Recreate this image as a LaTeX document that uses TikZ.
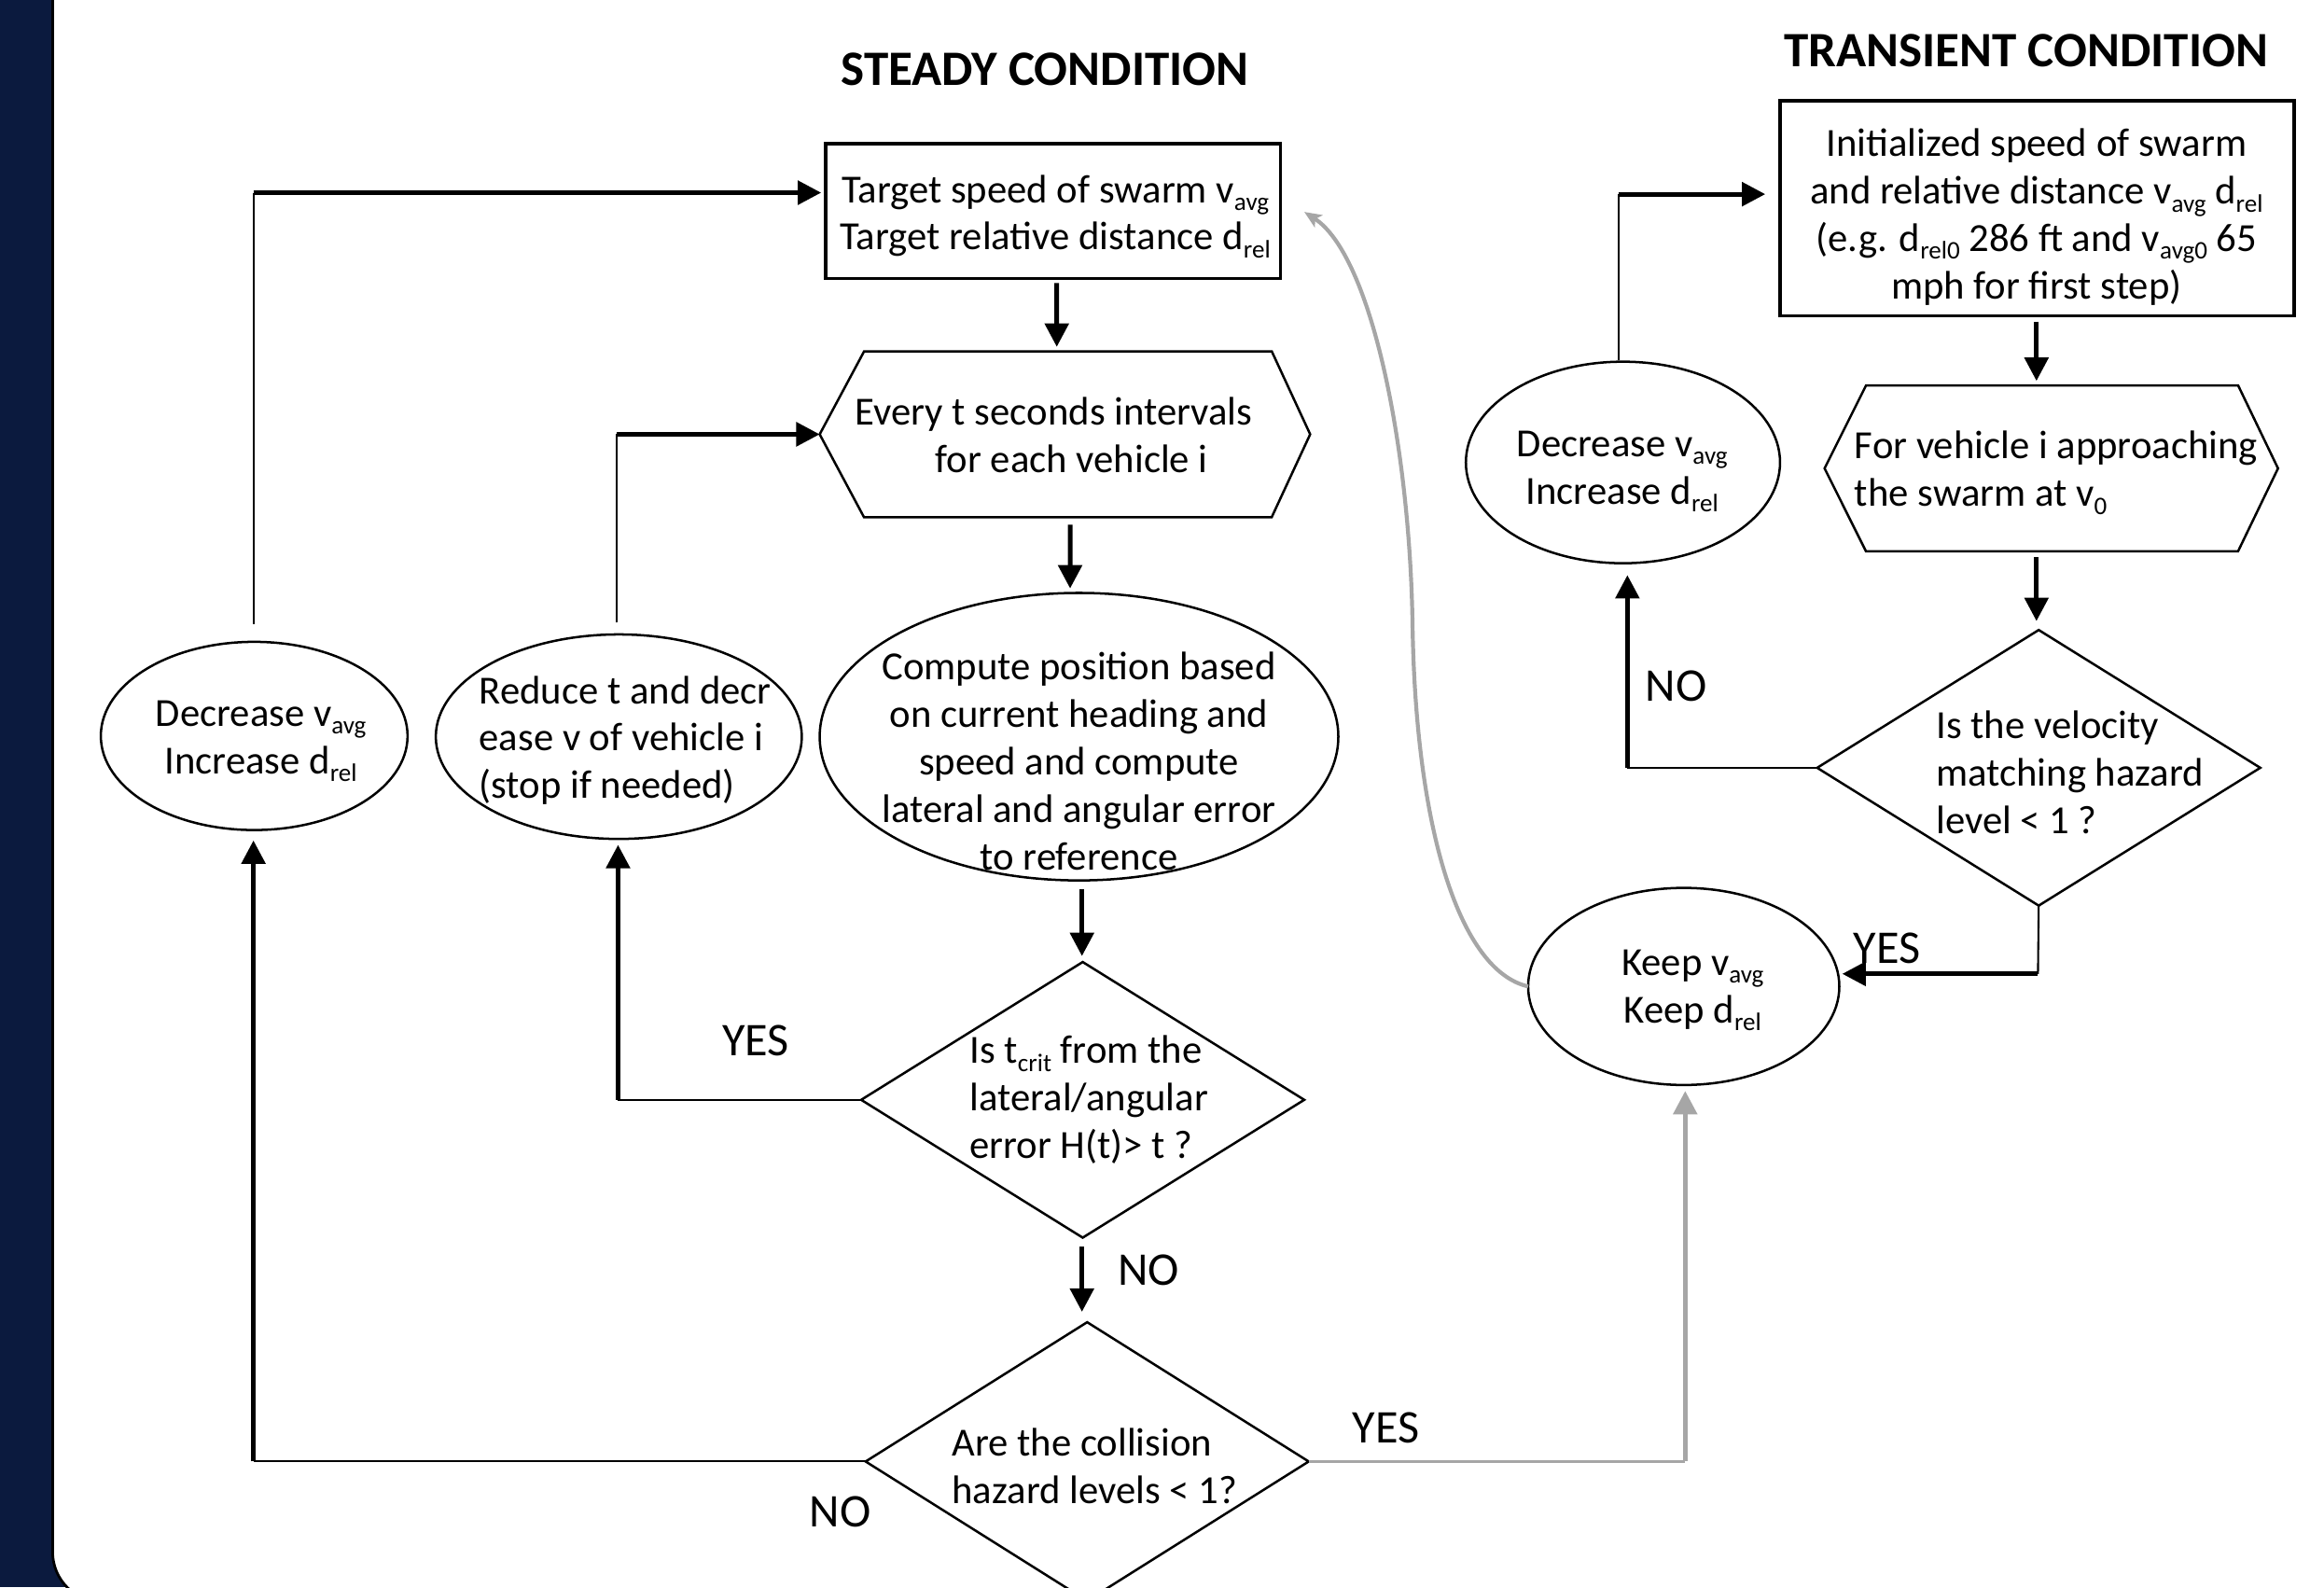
\documentclass[tikz,border=0pt]{standalone}
\usepackage{fontspec}
\setmainfont{Carlito}
\usetikzlibrary{shapes.geometric,arrows.meta,calc}
\definecolor{navyband}{HTML}{0B1A3E}
\definecolor{lgray}{HTML}{A6A6A6}
\newcommand{\sbx}[1]{\raisebox{-3pt}{\fontsize{9.7}{10}\selectfont #1}}
\tikzset{
  body/.style={font=\fontsize{15.3}{18.2}\selectfont, inner sep=0pt, align=center},
  bodyl/.style={font=\fontsize{15.3}{18.2}\selectfont, inner sep=0pt, align=left, anchor=west},
  ttl/.style={font=\fontsize{19}{22}\selectfont\bfseries, inner sep=0pt},
  lbl/.style={font=\fontsize{18}{21}\selectfont, inner sep=0pt},
  boxnode/.style={draw, line width=1.3pt, rectangle, inner sep=0pt, outer sep=0pt},
  ellnode/.style={draw, line width=0.9pt, ellipse, inner sep=0pt, outer sep=0pt},
  dianode/.style={draw, line width=0.9pt, diamond, inner sep=0pt, outer sep=0pt},
  hexnode/.style={rectangle, inner sep=0pt, outer sep=0pt},
  shapeline/.style={line width=0.9pt, line join=miter},
  thinl/.style={line width=0.75pt},
  arr/.style={line width=1.8pt, -{Triangle[length=9pt,width=9pt]}},
  gthin/.style={line width=0.8pt, draw=lgray},
  garr/.style={line width=1.8pt, draw=lgray, -{Triangle[length=9pt,width=9pt]}, lgray},
  gcurve/.style={line width=1.5pt, draw=lgray, -{Stealth[length=6.5pt,width=5.5pt,inset=1.5pt]}, lgray},
}
\begin{document}
\begin{tikzpicture}[x=0.02cm,y=-0.02cm]
\useasboundingbox (0,0) rectangle (1568,1071);
% background band and panel
\fill[navyband] (0,0) rectangle (1568,1071);
\filldraw[fill=white, draw=black, line width=1pt, rounded corners=0.68cm] (35.5,-40) rectangle (1640,1081);

% titles
\node[ttl] (tsteady) at (705,47) {STEADY CONDITION};
\node[ttl] (ttrans) at (1367,34) {TRANSIENT CONDITION};

% steady nodes
\node[boxnode, minimum width=6.14cm, minimum height=1.82cm] (target) at (710.5,142.5) {};
\node[body] (ttarget) at (712,146) {Target speed of swarm v\sbx{avg}\\Target relative distance d\sbx{rel}};

\node[hexnode, minimum width=6.62cm, minimum height=2.24cm] (hexA) at (718.5,293) {};
\draw[shapeline] (hexA.west) -- ++(30,-56) -- ++(275,0) -- (hexA.east) -- ++(-26,56) -- ++(-275,0) -- cycle;
\node[body] (thexA) at (711,293.5) {Every t seconds intervals\\\hspace*{0.48cm}for each vehicle i};

\node[ellnode, minimum width=7cm, minimum height=3.88cm] (compute) at (728,497) {};
\node[body] (tcompute) at (728,513.5) {Compute position based\\on current heading and\\speed and compute\\lateral and angular error\\to reference};

\node[dianode, minimum width=5.98cm, minimum height=3.72cm] (d1) at (730.5,742) {};
\node[bodyl] (td1) at (654,742) {Is t\sbx{crit} from the\\lateral/angular\\error H(t)> t ?};

\node[ellnode, minimum width=4.94cm, minimum height=2.76cm] (reduce) at (417.5,497) {};
\node[bodyl] (treduce) at (323,499.5) {Reduce t and decr\\ease v of vehicle i\\(stop if needed)};

\node[ellnode, minimum width=4.14cm, minimum height=2.54cm] (decL) at (171.5,496.5) {};
\node[body] (tdecL) at (176,500) {Decrease v\sbx{avg}\\Increase d\sbx{rel}};

\node[dianode, minimum width=5.98cm, minimum height=3.76cm] (d2) at (733.5,986) {};
\node[bodyl] (td2) at (642,989) {Are the collision\\hazard levels < 1?};

\node[ellnode, minimum width=4.2cm, minimum height=2.66cm] (keep) at (1136,665.5) {};
\node[body] (tkeep) at (1142,668) {Keep v\sbx{avg}\\Keep d\sbx{rel}};

% transient nodes
\node[boxnode, minimum width=6.94cm, minimum height=2.9cm] (init) at (1374.5,140.5) {};
\node[body] (tinit) at (1374,146.5) {Initialized speed of swarm\\and relative distance v\sbx{avg} d\sbx{rel}\\(e.g. d\sbx{rel0} 286 ft and v\sbx{avg0} 65\\mph for first step)};

\node[hexnode, minimum width=6.12cm, minimum height=2.24cm] (hexB) at (1384,316) {};
\draw[shapeline] (hexB.west) -- ++(28,-56) -- ++(251,0) -- (hexB.east) -- ++(-27,56) -- ++(-251,0) -- cycle;
\node[bodyl] (thexB) at (1251,319) {For vehicle i approaching\\the swarm at v\sbx{0}};

\node[dianode, minimum width=5.98cm, minimum height=3.72cm] (d3) at (1375.5,518) {};
\node[bodyl] (td3) at (1306,521) {Is the velocity\\matching hazard\\level < 1 ?};

\node[ellnode, minimum width=4.24cm, minimum height=2.72cm] (decR) at (1095,312) {};
\node[body] (tdecR) at (1094.5,318) {Decrease v\sbx{avg}\\Increase d\sbx{rel}};

% labels
\node[lbl] (lyes1) at (510,702) {YES};
\node[lbl] (lno1) at (775,857) {NO};
\node[lbl] (lno2) at (567,1020) {NO};
\node[lbl] (lyes2) at (935,963) {YES};
\node[lbl] (lno3) at (1131,463) {NO};
\node[lbl] (lyes3) at (1273,640) {YES};

% bend coordinates
\coordinate (c5) at (417,742);
\coordinate (c6) at (416,293);
\coordinate (c7) at (171,130);
\coordinate (c8) at (171,986);
\coordinate (c9) at (1137,986);
\coordinate (c10) at (880,143);
\coordinate (c13) at (1098,518);
\coordinate (c14) at (1092,131);
\coordinate (c15) at (1375,657);

% steady connectors
\draw[arr] ($(target.south)+(2.5,3)$) -- ($(hexA.north)+(-5.5,-3)$);
\draw[arr] ($(hexA.south)+(3.5,5)$) -- ($(compute.north)+(-6,-3)$);
\draw[arr] ($(compute.south)+(2,6)$) -- ($(d1.north)+(-0.5,-4)$);
\draw[arr] ($(d1.south)+(-0.5,6)$) -- ($(d2.north)+(-3.5,-7)$);

\draw[thinl] (d1.west) -- (c5);
\draw[arr] (c5) -- ($(reduce.south)+(-0.5,4)$);

\draw[thinl] ($(reduce.north)+(-1.5,-8)$) -- (c6);
\draw[arr] (c6) -- (hexA.west);

\draw[thinl] ($(decL.north)+(-0.5,-12)$) -- (c7);
\draw[arr] (c7) -- ($(target.west)+(-3,-12.5)$);

\draw[thinl] (d2.west) -- (c8);
\draw[arr] (c8) -- ($(decL.south)+(-0.5,7)$);

\draw[gthin] (d2.east) -- (c9);
\draw[garr] (c9) -- ($(keep.south)+(1,4)$);

\draw[gcurve] (keep.west) .. controls (985,655) and (955,560) .. (953,420) .. controls (951,300) and (925,172) .. (c10);

% transient connectors
\draw[arr] ($(init.south)+(-0.5,4)$) -- ($(hexB.north)+(-10,-3)$);
\draw[arr] ($(hexB.south)+(-10,4)$) -- ($(d3.north)+(-1.5,-6)$);

\draw[thinl] (d3.west) -- (c13);
\draw[arr] (c13) -- ($(decR.south)+(3,8)$);

\draw[thinl] ($(decR.north)+(-3,-1)$) -- (c14);
\draw[arr] (c14) -- ($(init.west)+(-10,-9.5)$);

\draw[thinl] (d3.south) -- (c15);
\draw[arr] (c15) -- ($(keep.east)+(2,-8.5)$);
\end{tikzpicture}
\end{document}
